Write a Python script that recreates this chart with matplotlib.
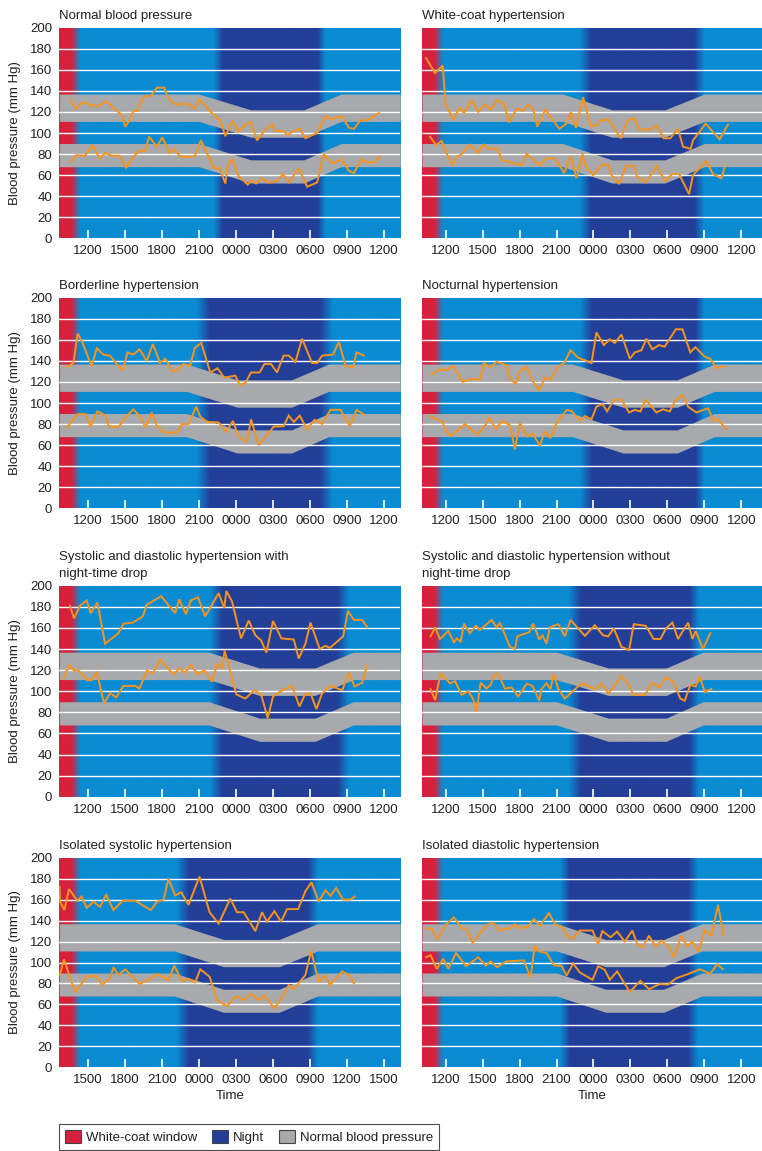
import numpy as np
import matplotlib
matplotlib.use('Agg')
import matplotlib.pyplot as plt
from matplotlib.patches import Patch
from matplotlib.colors import to_rgb

plt.rcParams['font.family'] = ['Liberation Sans', 'DejaVu Sans']

TXT = '#231f20'
SKY = '#0a8bd2'
NIGHT = '#233f98'
RED = '#d7203b'
BAND = '#a7a9ac'
LINE = '#f7941d'
FS = 9.5

# ── panel titles, axis start (hours), first labelled tick ──
titles = ["Normal blood pressure", "White-coat hypertension",
          "Borderline hypertension", "Nocturnal hypertension",
          "Systolic and diastolic hypertension with\nnight-time drop",
          "Systolic and diastolic hypertension without\nnight-time drop",
          "Isolated systolic hypertension", "Isolated diastolic hypertension"]
x_start = [9.7, 10.08, 9.7, 10.08, 9.7, 10.08, 12.7, 10.08]
first_tick = [12, 12, 12, 12, 12, 12, 15, 12]
SPAN = 27.6

# night shading: fade-in start, fully dark, fade-out start, fade-out end
night = [(22.2, 22.9, 30.6, 31.2), (22.9, 23.8, 32.2, 33.0),
         (20.8, 21.9, 30.8, 31.8), (22.9, 23.9, 32.3, 33.0),
         (21.9, 22.9, 32.2, 33.1), (22.0, 23.0, 31.8, 32.6),
         (22.2, 23.2, 32.8, 33.6), (21.3, 22.1, 31.7, 32.5)]
# normal range bands: drop start, drop end, rise start, rise end
band_t = [(21.0, 25.2, 29.5, 32.5), (21.5, 25.5, 29.8, 33.0),
          (20.0, 24.1, 28.5, 31.5), (22.3, 26.4, 30.8, 33.8),
          (21.8, 25.9, 30.4, 33.5), (21.0, 25.2, 29.9, 32.9),
          (22.0, 26.0, 30.5, 33.6), (21.0, 25.0, 29.7, 32.8)]
sys_day, sys_night = (111, 137), (96, 122)
dia_day, dia_night = (68, 90), (52.5, 74.5)

# ── measurements (hour of day, mmHg) ──
normal_sys_t = [10.57, 11.05, 11.6, 12.73, 13.49, 14.08, 14.76, 15.03, 15.43, 15.7, 16.03, 16.3, 16.57, 17.1, 17.6, 18.19, 18.54, 18.95, 19.49, 20.03, 20.65, 21.03, 21.51, 22.05, 22.46, 22.73, 23.14, 23.68, 24.03, 24.16, 24.89, 25.22, 25.7, 26.24, 26.65, 27.0, 27.11, 27.81, 28.19, 28.54, 29.16, 29.62, 30.57, 31.24, 31.65, 32.6, 33.14, 33.54, 34.08, 34.62, 35.57]
normal_sys = [132, 123, 129, 125, 130, 124, 117, 106, 113, 121, 121, 130, 135, 135, 143, 143, 133, 128, 127, 128, 123, 132, 126, 119, 114, 112, 97, 111, 106, 101, 109, 110, 93, 101, 106, 108, 102, 102, 98, 101, 104, 95, 100, 116, 113, 116, 105, 104, 112, 112, 119]
normal_dia_t = [10.57, 11.05, 11.78, 12.41, 12.95, 13.41, 13.95, 14.57, 15.11, 15.7, 16.19, 16.65, 16.97, 17.6, 18.05, 18.62, 19.0, 19.49, 20.65, 21.16, 21.78, 22.19, 22.68, 23.14, 23.35, 23.68, 24.22, 24.95, 25.22, 25.62, 26.11, 26.6, 27.27, 27.81, 28.27, 29.08, 29.76, 30.57, 31.11, 31.78, 32.6, 33.14, 33.54, 34.14, 34.62, 35.16, 35.65]
normal_dia = [72, 79, 78.5, 88, 76, 81, 78.5, 78.5, 67, 77.5, 83, 83, 96.5, 87, 96, 81, 85, 77.5, 77.5, 93, 77.5, 67, 66.5, 52, 70.5, 75, 59, 51, 55, 52, 57, 53, 54, 61, 53, 66.5, 49, 53, 80, 71, 75, 64, 62, 75, 72, 72, 77.5]

wc_sys_t = [10.41, 11.14, 11.76, 12.0, 12.62, 13.11, 13.49, 14.11, 14.65, 15.19, 15.65, 16.14, 16.73, 17.16, 17.76, 18.24, 18.7, 19.11, 19.43, 20.11, 21.22, 21.81, 22.16, 22.57, 23.16, 23.76, 24.24, 24.65, 25.19, 26.22, 26.76, 27.35, 27.68, 28.57, 29.11, 29.7, 30.24, 30.86, 31.27, 31.89, 32.08, 33.11, 33.7, 34.24, 34.92]
wc_sys = [171, 157, 164, 127, 113, 124, 119, 131, 120, 127, 122, 131, 127.5, 110, 123, 121, 127, 122.5, 106, 122, 104, 109, 120, 105, 134, 107, 107, 112, 113, 95, 112, 114, 103.5, 103, 107, 95, 95, 104, 87, 85, 93, 109, 101, 94, 108]
wc_dia_t = [10.73, 11.22, 11.68, 12.08, 12.57, 12.84, 13.3, 13.97, 14.65, 15.05, 15.54, 16.27, 16.54, 18.16, 18.57, 19.65, 20.19, 20.87, 21.62, 22.16, 22.62, 23.11, 23.38, 23.97, 24.73, 25.19, 25.46, 26.08, 26.68, 27.27, 27.54, 28.24, 29.16, 29.78, 30.41, 30.95, 31.76, 32.08, 33.16, 33.7, 34.38, 34.65]
wc_dia = [96.5, 88.5, 92.5, 80.5, 69, 77, 80, 89, 81, 89, 85, 85, 74.5, 69.5, 80, 69.5, 76, 76, 62, 78, 57, 80.5, 68, 60, 70, 70, 60, 52, 69, 69, 58.5, 53, 68.5, 54.5, 61, 61, 42, 60, 73.5, 61, 57, 67.5]

bl_sys_t = [10.3, 10.84, 11.19, 11.59, 12.32, 12.73, 13.27, 13.81, 14.35, 14.84, 15.22, 15.7, 16.19, 16.78, 17.27, 17.86, 18.27, 18.89, 19.27, 19.76, 20.3, 20.65, 21.19, 21.92, 22.51, 23.05, 23.95, 24.3, 24.76, 25.22, 25.92, 26.3, 26.84, 27.32, 27.86, 28.27, 28.81, 29.35, 30.16, 30.57, 30.97, 31.86, 32.33, 32.86, 33.49, 33.76, 34.35]
bl_sys = [134, 138, 166, 157, 135, 152, 146, 145, 137, 131, 148, 146, 151, 140, 156, 138, 142, 130, 131, 137, 135.5, 152, 157, 129, 133, 124, 126, 117, 119, 129, 129, 137, 137, 129, 145, 145, 139, 161, 138, 138, 145, 146, 158, 135.5, 134, 148, 145]
bl_dia_t = [10.3, 11.16, 11.78, 12.24, 12.78, 13.41, 13.68, 14.22, 14.57, 15.11, 15.7, 16.24, 16.7, 17.19, 17.6, 18.22, 19.22, 19.62, 20.16, 20.78, 21.11, 21.65, 22.59, 23.22, 23.76, 24.16, 24.89, 25.22, 25.84, 27.05, 27.86, 28.27, 28.68, 29.16, 29.76, 30.35, 30.97, 31.65, 32.46, 33.22, 33.76, 34.35]
bl_dia = [76.5, 89.5, 89.5, 77.5, 92, 88.5, 78.5, 77, 78, 87, 94, 87, 77, 91, 78, 72, 72, 80, 80, 96.5, 87, 82, 81.5, 73, 83, 69, 63, 84.5, 60, 77.5, 78, 88, 82, 88, 75, 84, 80, 93.5, 93.5, 78, 93.5, 89]

noc_sys_t = [10.86, 11.49, 12.08, 12.62, 13.38, 14.11, 14.78, 15.11, 15.59, 16.14, 16.95, 17.22, 17.7, 18.03, 18.57, 19.11, 19.6, 20.05, 20.51, 21.14, 21.62, 22.14, 22.76, 23.84, 24.24, 24.84, 25.32, 25.73, 26.27, 26.95, 27.35, 27.89, 28.3, 28.78, 29.32, 29.78, 30.68, 31.22, 31.86, 32.27, 33.03, 33.49, 33.97, 34.65]
noc_sys = [127, 132, 131, 135, 120, 123, 122, 138, 134, 139, 136, 123, 118, 130, 134.5, 120, 112, 124, 122, 134.5, 138, 150, 143, 138, 167, 155, 160.5, 157, 165, 142, 148, 150, 161, 151, 155, 153.5, 170, 170, 148, 153, 144, 142, 133, 135]
noc_dia_t = [10.73, 11.76, 11.95, 12.41, 13.57, 14.57, 15.19, 15.54, 16.08, 16.54, 17.22, 17.62, 18.03, 18.65, 19.05, 19.65, 20.05, 20.51, 21.0, 21.81, 22.22, 22.89, 23.3, 23.84, 24.24, 24.73, 25.11, 25.65, 26.27, 26.89, 27.35, 27.81, 28.24, 29.11, 29.65, 30.19, 30.68, 31.22, 31.68, 32.35, 33.3, 33.76, 34.11, 34.78]
noc_dia = [87.5, 82, 74.5, 68.5, 80, 70, 78, 86, 75, 83, 79, 56, 81, 68, 71, 59.5, 73, 66.5, 81, 93.5, 92.5, 83, 87.5, 84.5, 96.5, 99, 92, 103, 103, 91, 93.5, 92, 103, 91, 94, 92, 103, 107.5, 96.5, 91, 95, 83, 84.5, 75]

drop_sys_t = [10.57, 10.89, 11.38, 11.92, 12.24, 12.78, 13.41, 14.49, 14.89, 15.65, 16.46, 16.78, 17.95, 19.08, 19.41, 19.95, 20.35, 20.92, 21.51, 22.59, 23.05, 23.22, 23.68, 24.41, 25.03, 25.57, 26.05, 26.46, 27.0, 27.68, 28.68, 29.08, 29.62, 30.03, 30.78, 31.24, 31.6, 32.68, 33.06, 33.54, 34.22, 34.62]
drop_sys = [181, 169, 181, 186, 174, 184, 145, 155, 164, 165, 171, 182, 190, 174, 187, 173, 186, 189, 171, 193, 179, 195, 185, 150, 167, 153, 148, 136.5, 166.5, 150, 149, 131, 145, 165, 140, 143, 141, 152, 176, 167.5, 167.5, 160.5]
drop_dia_t = [10.03, 10.51, 10.89, 11.24, 11.92, 12.32, 12.73, 13.32, 13.81, 14.3, 14.89, 15.84, 16.19, 16.78, 17.27, 17.86, 18.46, 18.95, 19.41, 19.89, 20.35, 20.89, 21.43, 22.05, 22.51, 22.86, 23.08, 24.03, 24.76, 25.49, 26.03, 26.57, 27.0, 27.54, 28.54, 29.14, 29.57, 30.03, 30.51, 30.97, 31.65, 32.6, 33.14, 33.59, 34.22, 34.62]
drop_dia = [112, 125, 119.5, 120, 110.5, 110.5, 118.5, 88.5, 98.5, 94, 105, 105, 102.5, 119.5, 117, 130, 122, 116, 121.5, 117.5, 125.5, 116, 120, 109, 126.5, 121.5, 138.5, 97, 93, 101, 97, 74.5, 95, 99.5, 105, 85.5, 96.5, 98, 83, 98, 105, 101, 117.5, 104.5, 108, 125]

nodrop_sys_t = [10.78, 11.14, 11.54, 12.22, 12.68, 12.89, 13.22, 13.49, 13.97, 14.46, 14.78, 15.73, 16.14, 16.41, 17.22, 17.62, 17.81, 18.78, 19.11, 19.6, 19.86, 20.19, 20.46, 21.14, 21.68, 22.14, 23.3, 24.11, 24.78, 25.19, 25.65, 26.27, 26.89, 27.27, 28.24, 28.89, 29.43, 29.92, 30.41, 30.86, 31.68, 32.03, 32.3, 32.89, 33.49]
nodrop_sys = [152, 160.5, 149.5, 157, 146, 150, 147, 164, 155, 162, 158, 167.5, 160.5, 165, 142, 140, 152, 156, 164, 149, 153, 145, 160.5, 163.5, 152, 167.5, 152.5, 162.5, 153, 152, 159.5, 142, 139, 163.5, 162, 149.5, 149.5, 160, 165, 149.5, 165, 149.5, 157, 140, 155]
nodrop_dia_t = [10.78, 11.14, 11.59, 12.35, 12.76, 13.3, 13.84, 14.24, 14.51, 14.84, 15.32, 15.65, 15.92, 16.27, 16.81, 17.35, 17.89, 18.57, 19.05, 19.6, 19.78, 20.19, 20.51, 20.78, 21.14, 21.68, 23.03, 24.11, 24.65, 25.19, 25.73, 26.22, 26.81, 27.22, 28.16, 28.78, 29.32, 29.86, 30.46, 31.05, 31.41, 31.86, 32.3, 32.62, 33.03, 33.57]
nodrop_dia = [102, 91.5, 117, 107.5, 109.5, 96.5, 100, 92.5, 80.5, 108, 102.5, 106, 115.5, 116.5, 102.5, 103.5, 95, 107, 105, 91, 102, 107.5, 102, 116.5, 102, 93, 107.5, 102, 107, 98, 105, 114.5, 107.5, 97, 96.5, 108, 103.5, 113, 109.5, 93, 91, 106, 104.5, 114, 99.5, 102]

isys_sys_t = [12.72, 12.75, 13.11, 13.49, 14.16, 14.51, 14.92, 15.46, 16.0, 16.49, 17.08, 17.84, 18.84, 20.11, 20.6, 21.14, 21.54, 22.08, 22.57, 23.16, 24.05, 24.86, 25.6, 26.54, 27.08, 27.62, 28.57, 29.11, 29.51, 30.11, 30.65, 31.14, 32.03, 32.62, 33.11, 33.7, 34.24, 34.65, 35.11, 35.65, 36.27, 36.6]
isys_sys = [172, 158, 150, 170, 159, 163, 152, 158, 153, 165, 150, 159, 159, 150, 158, 160, 180, 164, 167, 155, 182, 148, 137, 161, 148, 148, 130, 148, 139, 149, 139, 151, 151, 168, 176.5, 158, 169, 163.5, 171, 160, 160, 163]
isys_dia_t = [12.75, 13.08, 13.97, 14.51, 14.97, 15.73, 16.14, 16.81, 17.08, 17.49, 18.03, 19.19, 20.0, 20.6, 21.54, 22.0, 22.62, 23.16, 23.7, 24.11, 24.86, 25.51, 26.27, 27.03, 27.62, 28.22, 28.84, 29.3, 30.11, 30.86, 31.27, 31.68, 32.62, 33.08, 33.7, 34.24, 34.6, 35.6, 36.22, 36.54]
isys_dia = [88.5, 103, 71.5, 80, 87, 87, 78.5, 85, 95.5, 88, 93.5, 79.5, 84, 89, 83, 97, 82.5, 84.5, 81, 93.5, 86.5, 63.5, 58.5, 68, 64, 70, 64, 68.5, 56.5, 69, 78.5, 74.5, 88, 111, 81.5, 87.5, 78.5, 91.5, 87.5, 80]

idia_sys_t = [10.41, 10.86, 11.32, 12.03, 12.68, 13.3, 13.65, 14.19, 14.78, 15.38, 15.87, 16.41, 16.89, 17.27, 17.62, 18.03, 18.7, 19.16, 19.65, 20.38, 20.92, 21.41, 21.87, 22.3, 22.89, 23.92, 24.38, 24.73, 25.38, 25.92, 26.54, 27.16, 27.54, 27.97, 28.51, 29.05, 29.51, 30.14, 30.51, 31.14, 31.6, 32.03, 32.54, 33.03, 33.57, 34.11, 34.57]
idia_sys = [132.5, 132.5, 122, 136.5, 143, 132.5, 132.5, 118.5, 128, 136, 138, 130, 132.5, 132.5, 136.5, 132.5, 134.5, 141.5, 135, 147, 136, 134.5, 125.5, 122.5, 130.5, 130.5, 117.5, 130, 124, 129.5, 120, 130.5, 117.5, 114.5, 125.5, 115, 121, 114.5, 105, 125.5, 115, 120, 110.5, 130.5, 125.5, 155, 125.5]
idia_dia_t = [10.41, 10.78, 11.27, 11.81, 12.22, 12.84, 13.65, 14.65, 15.27, 15.65, 16.19, 16.89, 18.35, 18.89, 19.24, 19.6, 20.19, 20.78, 21.41, 21.81, 22.35, 22.89, 23.92, 24.38, 24.92, 25.32, 25.92, 26.95, 27.81, 28.51, 29.38, 30.05, 30.73, 31.68, 32.62, 33.49, 34.05, 34.51]
idia_dia = [105, 107, 94, 103.5, 94, 109, 96.5, 105, 97, 101, 95.5, 101, 102, 85.5, 116, 110.5, 109, 97.5, 96.5, 87.5, 99, 90.5, 83.5, 96.5, 93, 83.5, 91.5, 72, 82.5, 74.5, 79.5, 79, 85, 89, 93.5, 89.5, 98.5, 93.5]

series = [(normal_sys_t, normal_sys, normal_dia_t, normal_dia),
          (wc_sys_t, wc_sys, wc_dia_t, wc_dia),
          (bl_sys_t, bl_sys, bl_dia_t, bl_dia),
          (noc_sys_t, noc_sys, noc_dia_t, noc_dia),
          (drop_sys_t, drop_sys, drop_dia_t, drop_dia),
          (nodrop_sys_t, nodrop_sys, nodrop_dia_t, nodrop_dia),
          (isys_sys_t, isys_sys, isys_dia_t, isys_dia),
          (idia_sys_t, idia_sys, idia_dia_t, idia_dia)]

W, H = 762, 1151
fig = plt.figure(figsize=(W / 100, H / 100), dpi=100)
fig.patch.set_facecolor('white')

col_x = [(59.3, 341.0), (422.0, 340.0)]
row_y = [(27.7, 238.3), (297.7, 508.3), (585.7, 796.7), (857.7, 1067.3)]


def backdrop(ax, x0, n):
    xs = np.linspace(x0, x0 + SPAN, 1400)
    w_n = np.interp(xs, night[n], [0, 1, 1, 0])
    w_r = np.interp(xs, [x0 + 1.0, x0 + 1.7], [1, 0])
    col = np.outer(1 - w_n, to_rgb(SKY)) + np.outer(w_n, to_rgb(NIGHT))
    col = col * (1 - w_r)[:, None] + np.outer(w_r, to_rgb(RED))
    ax.imshow(col[None, :, :], extent=[x0, x0 + SPAN, 0, 200], aspect='auto',
              interpolation='bilinear', zorder=0)


def bands(ax, x0, n):
    xs = np.linspace(x0, x0 + SPAN, 800)
    w = np.interp(xs, band_t[n], [0, 1, 1, 0])
    for day, nt in [(sys_day, sys_night), (dia_day, dia_night)]:
        lo = day[0] + (nt[0] - day[0]) * w
        hi = day[1] + (nt[1] - day[1]) * w
        ax.fill_between(xs, lo, hi, color=BAND, lw=0, zorder=1)


for n in range(8):
    r, c = divmod(n, 2)
    left, width = col_x[c]
    top, bot = row_y[r]
    ax = fig.add_axes([left / W, 1 - bot / H, width / W, (bot - top) / H])
    x0 = x_start[n]

    backdrop(ax, x0, n)
    bands(ax, x0, n)
    for yv in range(20, 200, 20):
        ax.axhline(yv, color='white', lw=1.0, zorder=2)

    st, sv, dt, dv = series[n]
    ax.plot(st, sv, color=LINE, lw=1.4, zorder=4, solid_joinstyle='miter')
    ax.plot(dt, dv, color=LINE, lw=1.4, zorder=4, solid_joinstyle='miter')

    ax.set_xlim(x0, x0 + SPAN)
    ax.set_ylim(0, 200)
    ticks = list(range(first_tick[n], first_tick[n] + 25, 3))
    ax.set_xticks(ticks)
    ax.set_xticklabels([f"{t % 24:02d}00" for t in ticks])
    ax.tick_params(axis='x', direction='in', length=6, width=1.2, color='white',
                   pad=5, labelsize=FS, labelcolor=TXT)
    ax.set_yticks(range(0, 201, 20))
    ax.tick_params(axis='y', length=0, pad=5, labelsize=FS, labelcolor=TXT)
    if c == 1:
        ax.set_yticklabels([])
    else:
        ax.set_ylabel('Blood pressure (mm Hg)', fontsize=FS, color=TXT)
        ax.yaxis.set_label_coords(-0.113, 0.5)
    if r == 3:
        ax.set_xlabel('Time', fontsize=FS, color=TXT, labelpad=3)
    for s in ax.spines.values():
        s.set_visible(False)
    ax.set_title(titles[n], loc='left', fontsize=FS, color=TXT, pad=6,
                 linespacing=1.65)

handles = [Patch(facecolor=RED, edgecolor='#444444', lw=0.8),
           Patch(facecolor=NIGHT, edgecolor='#444444', lw=0.8),
           Patch(facecolor=BAND, edgecolor='#444444', lw=0.8)]
leg = fig.legend(handles, ['White-coat window', 'Night', 'Normal blood pressure'],
                 loc='upper left', bbox_to_anchor=(59.3 / W, 1 - 1124 / H),
                 ncol=3, fontsize=FS, frameon=True, fancybox=False,
                 edgecolor=TXT, handlelength=1.2, handleheight=1.2,
                 handletextpad=0.4, columnspacing=1.1, borderpad=0.45,
                 borderaxespad=0)
leg.get_frame().set_linewidth(0.8)
for t in leg.get_texts():
    t.set_color(TXT)

fig.savefig('out.png', dpi=100, facecolor='white')
